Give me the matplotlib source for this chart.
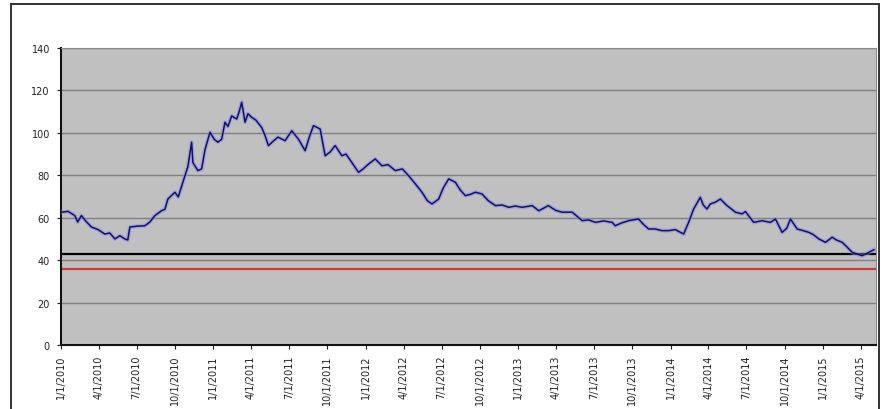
import numpy as np
import pandas as pd
import matplotlib
matplotlib.use("Agg")
import matplotlib.pyplot as plt
import matplotlib.dates as mdates
from matplotlib.patches import Rectangle

# series
dates = [
    "2010-01-02", "2010-01-18", "2010-02-03", "2010-02-10", "2010-02-19", "2010-03-01",
    "2010-03-15", "2010-03-30", "2010-04-16", "2010-04-28", "2010-05-10", "2010-05-22",
    "2010-06-03", "2010-06-10", "2010-06-15", "2010-07-02", "2010-07-21", "2010-08-02",
    "2010-08-14", "2010-08-30", "2010-09-07", "2010-09-14", "2010-10-01", "2010-10-09",
    "2010-10-25", "2010-11-01", "2010-11-10", "2010-11-13", "2010-11-25", "2010-12-04",
    "2010-12-12", "2010-12-24", "2011-01-03", "2011-01-12", "2011-01-21", "2011-01-29",
    "2011-02-05", "2011-02-14", "2011-02-26", "2011-03-04", "2011-03-10", "2011-03-18",
    "2011-03-25", "2011-04-03", "2011-04-13", "2011-04-27", "2011-05-05", "2011-05-13",
    "2011-05-24", "2011-06-05", "2011-06-22", "2011-07-08", "2011-07-16", "2011-07-24",
    "2011-08-09", "2011-08-19", "2011-08-29", "2011-09-14", "2011-09-26", "2011-10-08",
    "2011-10-20", "2011-11-05", "2011-11-15", "2011-11-29", "2011-12-15", "2011-12-26",
    "2012-01-08", "2012-01-24", "2012-02-09", "2012-02-24", "2012-03-12", "2012-03-29",
    "2012-04-13", "2012-04-29", "2012-05-15", "2012-05-28", "2012-06-08", "2012-06-24",
    "2012-07-05", "2012-07-18", "2012-08-03", "2012-08-15", "2012-08-27", "2012-09-08",
    "2012-09-20", "2012-10-06", "2012-10-21", "2012-11-07", "2012-11-23", "2012-12-09",
    "2012-12-25", "2013-01-10", "2013-02-03", "2013-02-19", "2013-03-14", "2013-03-31",
    "2013-04-16", "2013-05-10", "2013-06-03", "2013-06-18", "2013-07-05", "2013-07-24",
    "2013-08-14", "2013-08-21", "2013-09-05", "2013-09-22", "2013-10-16", "2013-10-27",
    "2013-11-09", "2013-11-25", "2013-12-11", "2013-12-27", "2014-01-12", "2014-02-01",
    "2014-02-13", "2014-02-25", "2014-03-13", "2014-03-20", "2014-03-29", "2014-04-06",
    "2014-04-18", "2014-04-30", "2014-05-16", "2014-05-24", "2014-06-05", "2014-06-21",
    "2014-06-29", "2014-07-19", "2014-08-08", "2014-08-28", "2014-09-09", "2014-09-25",
    "2014-10-06", "2014-10-15", "2014-10-31", "2014-11-13", "2014-11-28", "2014-12-09",
    "2014-12-22", "2015-01-07", "2015-01-23", "2015-02-02", "2015-02-16", "2015-02-26",
    "2015-03-12", "2015-03-22", "2015-04-05", "2015-04-21", "2015-05-03",
]
values = [
    62.6, 63.0, 61.0, 58.0, 61.0, 58.5,
    55.6, 54.5, 52.3, 52.8, 50.0, 51.5,
    50.0, 49.5, 55.6, 56.0, 56.2, 58.0,
    61.0, 63.3, 64.0, 68.8, 72.0, 69.8,
    79.8, 84.0, 95.6, 86.0, 82.2, 83.0,
    92.0, 100.3, 97.0, 95.6, 97.0, 105.0,
    103.0, 108.0, 106.5, 110.0, 114.4, 105.0,
    109.0, 107.3, 106.0, 102.5, 98.7, 94.0,
    96.0, 98.0, 96.3, 101.0, 99.0, 97.0,
    91.6, 98.0, 103.4, 101.8, 89.2, 91.0,
    94.0, 89.2, 90.0, 86.0, 81.4, 83.0,
    85.3, 87.7, 84.5, 85.0, 82.2, 83.0,
    79.8, 76.0, 72.0, 68.0, 66.5, 68.8,
    74.0, 78.3, 76.7, 73.0, 70.4, 71.0,
    72.0, 71.2, 68.0, 65.7, 66.0, 64.9,
    65.5, 64.9, 65.7, 63.3, 65.7, 63.5,
    62.6, 62.6, 58.6, 59.0, 57.8, 58.5,
    57.8, 56.2, 57.5, 58.6, 59.4, 57.0,
    54.7, 54.7, 53.9, 53.9, 54.4, 52.3,
    57.8, 64.1, 69.6, 66.0, 64.1, 66.5,
    67.3, 68.8, 65.7, 64.5, 62.6, 61.8,
    62.9, 57.8, 58.6, 57.8, 59.4, 53.1,
    55.0, 59.4, 54.7, 54.0, 53.1, 52.0,
    50.0, 48.4, 50.8, 49.5, 48.4, 46.5,
    43.7, 43.0, 42.1, 43.7, 44.9,
]
black_level = 43
red_level = 36

y_ticks = [0, 20, 40, 60, 80, 100, 120, 140]
tick_dates = pd.date_range("2010-01-01", "2015-04-01", freq="QS")
tick_labels = [f"{d.month}/{d.day}/{d.year}" for d in tick_dates]

x = pd.to_datetime(dates)

fig = plt.figure(figsize=(8.93, 4.10), dpi=100)
W, H = 893, 410

# outer chart frame
fig.patches.append(Rectangle((11 / W, -0.05), (879 - 11) / W, 1.05 - 5 / H,
                             transform=fig.transFigure, fill=False,
                             edgecolor="#333333", linewidth=1.4))

ax = fig.add_axes([61 / W, 1 - 346 / H, (876 - 61) / W, (346 - 49) / H])
ax.set_facecolor("#c0c0c0")

for yv in y_ticks[1:]:
    ax.axhline(yv, color="#7f7f7f", linewidth=1.0, zorder=1)

ax.axhline(red_level, color="#cc3a3a", linewidth=1.6, zorder=2)
ax.axhline(black_level, color="#000000", linewidth=1.6, zorder=2)

# series with the blurry halo from the original
ax.plot(x, values, color="#8c8ce0", linewidth=3.0, alpha=0.55, zorder=3)
ax.plot(x, values, color="#10106a", linewidth=1.1, zorder=4)

ax.set_ylim(0, 140)
ax.set_yticks(y_ticks)
ax.set_xlim(pd.Timestamp("2010-01-01"), pd.Timestamp("2015-05-08"))
ax.set_xticks(tick_dates)
ax.set_xticklabels(tick_labels, rotation=90, va="top", ha="center")

ax.tick_params(axis="both", direction="out", length=3, width=0.8,
               labelsize=7, colors="#222222")
ax.tick_params(axis="y", pad=5)
ax.tick_params(axis="x", pad=4)

for s in ["left", "bottom"]:
    ax.spines[s].set_color("#111111")
    ax.spines[s].set_linewidth(1.5)
for s in ["top", "right"]:
    ax.spines[s].set_color("#8a8a8a")
    ax.spines[s].set_linewidth(0.8)

fig.savefig("out.png", dpi=100)
